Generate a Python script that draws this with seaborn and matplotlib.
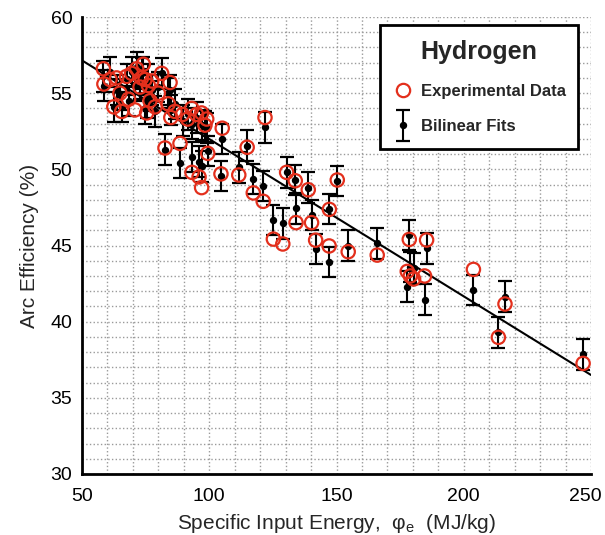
import matplotlib
matplotlib.use("Agg")
import matplotlib.pyplot as plt
import matplotlib.transforms as mtransforms
import seaborn as sns
import pandas as pd
from matplotlib.lines import Line2D
from matplotlib.ticker import MultipleLocator
from matplotlib.legend_handler import HandlerErrorbar

# ---- data ----
energy = [58.4, 58.6, 61.0, 62.5, 63.6, 64.9, 65.6, 67.5, 68.3, 69.5,
          70.8, 71.5, 72.8, 73.4, 74.1, 74.8, 75.4, 76.1, 76.7, 77.4,
          78.7, 80.0, 81.3, 82.6, 83.9, 84.6, 84.9, 86.5, 88.5, 89.5,
          91.5, 93.1, 93.2, 95.0, 96.0, 97.0, 97.0, 98.3, 99.0, 99.4,
          104.6, 105.1, 111.6, 114.9, 117.3, 121.2, 121.9, 125.2, 128.9, 130.4,
          133.8, 134.1, 138.9, 140.2, 141.8, 147.1, 147.2, 150.3, 154.6, 166.0,
          177.8, 178.6, 179.0, 180.3, 184.6, 185.4, 203.8, 213.6, 216.2, 246.9]
experimental = [56.6, 55.6, 55.9, 54.1, 56.0, 55.0, 53.8, 56.1, 54.6, 56.3,
                53.9, 56.6, 55.4, 56.0, 56.9, 55.9, 53.7, 55.5, 54.5, 55.8,
                54.1, 55.0, 56.3, 51.4, 54.3, 55.7, 53.4, 53.8, 51.7, 53.6,
                53.3, 54.0, 49.8, 53.6, 49.5, 53.7, 48.8, 52.9, 53.3, 51.05,
                49.7, 52.7, 49.63, 51.45, 48.45, 47.9, 53.4, 45.42, 45.1, 49.8,
                49.25, 46.5, 48.66, 46.5, 45.35, 44.97, 47.37, 49.3, 44.59, 44.37,
                43.3, 45.4, 43.0, 42.8, 43.0, 45.36, 43.43, 38.97, 41.16, 37.26]
bilinear = [56.1, 55.5, 56.4, 54.1, 55.2, 54.9, 54.1, 55.9, 54.5, 56.4,
            55.5, 56.7, 55.6, 56.3, 56.4, 54.0, 54.4, 55.9, 54.8, 55.2,
            53.8, 55.4, 56.3, 51.3, 55.0, 55.2, 53.9, 54.3, 50.4, 53.2,
            53.6, 53.0, 50.8, 53.4, 50.5, 52.9, 50.2, 52.8, 52.7, 51.2,
            49.55, 52.0, 50.13, 51.55, 49.36, 48.9, 52.75, 46.67, 46.45, 49.8,
            49.3, 47.44, 48.8, 47.0, 44.77, 43.9, 47.4, 49.25, 44.99, 45.14,
            42.3, 45.7, 43.6, 43.5, 41.45, 44.81, 42.07, 39.3, 41.64, 37.85]
fit_uncertainty = 1.0
fit_energy = [50, 250]
fit_efficiency = [57.15, 36.5]

x_ticks = [50, 100, 150, 200, 250]
y_ticks = [30, 35, 40, 45, 50, 55, 60]

red = "#e32f1c"

sns.set_style("white")
plt.rcParams["font.family"] = ["Liberation Sans", "DejaVu Sans"]

df = pd.DataFrame({"energy": energy, "experimental": experimental,
                   "bilinear": bilinear})

fig = plt.figure(figsize=(6.05, 5.35), dpi=100)
ax = fig.add_axes([82 / 605, 1 - 474 / 535, 509 / 605, 457 / 535])

sns.lineplot(x=fit_energy, y=fit_efficiency, color="black", lw=1.5,
             ax=ax, zorder=2)
eb = ax.errorbar(df["energy"], df["bilinear"], yerr=fit_uncertainty,
                 fmt="o", color="black", ms=4.3, capsize=4.8,
                 elinewidth=1.5, capthick=1.6, zorder=3)
sns.scatterplot(data=df, x="energy", y="experimental", marker="o", s=92,
                facecolors="none", edgecolors=red, linewidths=1.6,
                ax=ax, zorder=4, legend=False)

ax.set_xlim(50, 250)
ax.set_ylim(30, 60)
ax.set_xticks(x_ticks)
ax.set_yticks(y_ticks)
ax.xaxis.set_minor_locator(MultipleLocator(10))
ax.yaxis.set_minor_locator(MultipleLocator(1))
ax.grid(True, which="both", color="#9a9a9a", linestyle=":", linewidth=1.0)
ax.set_axisbelow(True)

for s in ["top", "right"]:
    ax.spines[s].set_visible(False)
for s in ["left", "bottom"]:
    ax.spines[s].set_linewidth(2)
    ax.spines[s].set_color("black")

ax.tick_params(which="major", direction="in", length=8, width=1.5,
               labelsize=14, colors="black")
ax.tick_params(axis="x", which="major", pad=10)
ax.tick_params(axis="y", which="major", pad=7)
ax.tick_params(which="minor", direction="in", length=4.5, width=1.2,
               colors="black")

# nudge the last x tick label slightly left so it stays inside the figure
fig.canvas.draw()
last = ax.get_xticklabels()[-1]
last.set_transform(last.get_transform() +
                   mtransforms.ScaledTranslation(-6 / 100, 0, fig.dpi_scale_trans))

ax.set_xlabel("Specific Input Energy,  φ$_\\mathregular{e}$  (MJ/kg)",
              fontsize=15, labelpad=5)
ax.set_ylabel("Arc Efficiency (%)", fontsize=15, labelpad=8)

h_exp = Line2D([], [], marker="o", ls="none", mfc="none", mec=red,
               mew=1.6, ms=9.6)
leg = ax.legend([h_exp, eb], ["Experimental Data", "Bilinear Fits"],
                title="Hydrogen", loc="upper left",
                bbox_to_anchor=(0.585, 0.683, 0.389, 0.299), mode="expand",
                prop={"weight": "bold", "size": 12},
                title_fontproperties={"weight": "bold", "size": 18},
                frameon=True, fancybox=False, edgecolor="black",
                framealpha=1, borderpad=0.9, handlelength=1.0,
                handletextpad=0.6, labelspacing=1.2, borderaxespad=0,
                handler_map={type(eb): HandlerErrorbar(xerr_size=0.5,
                                                       yerr_size=0.95)})
leg.get_frame().set_linewidth(2)

fig.savefig("out.png", dpi=100)
